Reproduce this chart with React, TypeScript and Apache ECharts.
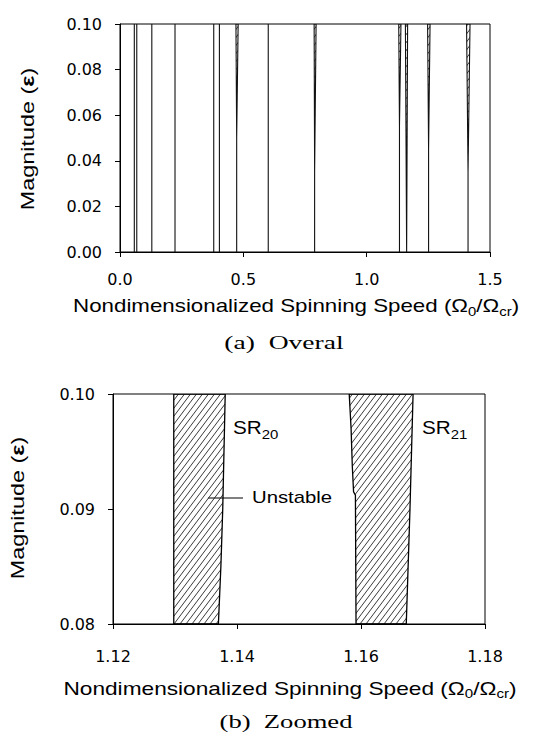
import React, { useEffect, useRef } from "react";
import * as echarts from "echarts";

// ---------- Panel (a): overall view ----------
// Each instability region: Omega at eps=0, eps where it starts to open, and its edges at eps=0.1
const overallBase = [0.058, 0.068, 0.129, 0.223, 0.38, 0.403, 0.473, 0.601, 0.789, 1.133, 1.162, 1.251, 1.411];
const overallKnee = [0.1, 0.1, 0.1, 0.1, 0.1, 0.1, 0.05, 0.1, 0.035, 0.055, 0.0, 0.045, 0.035];
const overallLeftTop = [0.058, 0.068, 0.129, 0.223, 0.38, 0.403, 0.47, 0.601, 0.787, 1.13, 1.157, 1.247, 1.405];
const overallRightTop = [0.058, 0.068, 0.129, 0.223, 0.38, 0.403, 0.479, 0.601, 0.795, 1.139, 1.166, 1.257, 1.419];
const overallTopEps = 0.1;
const overallXMin = 0;
const overallXMax = 1.5;
const overallXStep = 0.5;
const overallYMin = 0;
const overallYMax = 0.1;
const overallYStep = 0.02;

// ---------- Panel (b): zoomed view ----------
const sr20Left = [[1.1298, 0.08], [1.1298, 0.1]];
const sr20Right = [[1.1381, 0.1], [1.1377, 0.09], [1.1374, 0.085], [1.137, 0.08]];
const sr21Left = [[1.1592, 0.08], [1.1591, 0.0912], [1.1588, 0.0915], [1.1586, 0.0937], [1.1584, 0.097], [1.1581, 0.1]];
const sr21Right = [[1.1684, 0.1], [1.1679, 0.09], [1.1673, 0.08]];
const zoomXMin = 1.12;
const zoomXMax = 1.18;
const zoomXStep = 0.02;
const zoomYMin = 0.08;
const zoomYMax = 0.1;
const zoomYStep = 0.01;

const sansFamily = "'Liberation Sans', Arial, sans-serif";
const serifFamily = "'Liberation Serif', 'Times New Roman', serif";
const tickFamily = "'DejaVu Sans', sans-serif";

function makeHatch() {
  const w = 6;
  const h = 8;
  const c = document.createElement("canvas");
  c.width = w;
  c.height = h;
  const ctx = c.getContext("2d");
  if (ctx) {
    ctx.strokeStyle = "#222";
    ctx.lineWidth = 0.9;
    ctx.beginPath();
    for (const dx of [-w, 0, w]) {
      ctx.moveTo(dx - w, 2 * h);
      ctx.lineTo(dx + 2 * w, -h);
    }
    ctx.stroke();
  }
  return { image: c, repeat: "repeat", imageWidth: w, imageHeight: h } as any;
}

function speedTitle(cx: number, cy: number, sx: number) {
  return {
    type: "text",
    x: cx,
    y: cy,
    scaleX: sx,
    style: {
      text: "{n|Nondimensionalized Spinning Speed (Ω}{s|0}{n|/Ω}{s|cr}{n|)}",
      align: "center",
      verticalAlign: "middle",
      rich: {
        n: { fontSize: 18, fontFamily: sansFamily, lineHeight: 24, fill: "#000", verticalAlign: "middle" },
        s: { fontSize: 12, fontFamily: sansFamily, lineHeight: 12, fill: "#000", verticalAlign: "bottom" },
      },
    },
  };
}

function magnitudeTitle(cx: number, cy: number, sx: number) {
  return {
    type: "text",
    x: cx,
    y: cy,
    rotation: Math.PI / 2,
    scaleX: sx,
    style: {
      text: "{n|Magnitude (}{e|ε}{n|)}",
      align: "center",
      verticalAlign: "middle",
      rich: {
        n: { fontSize: 18, fontFamily: sansFamily, fill: "#000" },
        e: { fontSize: 18, fontFamily: sansFamily, fontWeight: "bold", fill: "#000" },
      },
    },
  };
}

function caption(text: string, cx: number, cy: number, sx: number) {
  return {
    type: "text",
    x: cx,
    y: cy,
    scaleX: sx,
    style: {
      text,
      align: "center",
      verticalAlign: "middle",
      fontSize: 19,
      fontFamily: serifFamily,
      fill: "#000",
    },
  };
}

function srLabel(main: string, sub: string, x: number, y: number) {
  return {
    type: "text",
    x,
    y,
    scaleX: 1.15,
    style: {
      text: `{a|${main}}{b|${sub}}`,
      align: "left",
      verticalAlign: "middle",
      rich: {
        a: { fontSize: 18, fontFamily: sansFamily, lineHeight: 26, fill: "#000", verticalAlign: "middle" },
        b: { fontSize: 13, fontFamily: sansFamily, lineHeight: 13, fill: "#000", verticalAlign: "bottom" },
      },
    },
  };
}

export default function App() {
  const ref = useRef<HTMLDivElement>(null);

  useEffect(() => {
    if (!ref.current) return;
    const chart = echarts.init(ref.current, undefined, { renderer: "svg" });
    const hatch = makeHatch();

    const zoomBands = [
      { left: sr20Left, right: sr20Right },
      { left: sr21Left, right: sr21Right },
    ];

    const axisCommon = {
      type: "value",
      axisLine: { show: true, lineStyle: { color: "#000", width: 1 } },
      axisTick: { show: true, inside: false, length: 5, lineStyle: { color: "#000" } },
      splitLine: { show: false },
    };

    const option: any = {
      animation: false,
      backgroundColor: "#fff",
      grid: [
        { left: 120, top: 24, width: 370, height: 228, show: true, borderColor: "#000", borderWidth: 1, backgroundColor: "transparent" },
        { left: 113, top: 394, width: 372, height: 230, show: true, borderColor: "#000", borderWidth: 1, backgroundColor: "transparent" },
      ],
      xAxis: [
        {
          ...axisCommon,
          gridIndex: 0,
          min: overallXMin,
          max: overallXMax,
          interval: overallXStep,
          axisLabel: { margin: 19, fontSize: 16, fontFamily: tickFamily, color: "#000", formatter: (v: number) => v.toFixed(1) },
        },
        {
          ...axisCommon,
          gridIndex: 1,
          min: zoomXMin,
          max: zoomXMax,
          interval: zoomXStep,
          axisLabel: { margin: 24, fontSize: 16, fontFamily: tickFamily, color: "#000", formatter: (v: number) => v.toFixed(2) },
        },
      ],
      yAxis: [
        {
          ...axisCommon,
          gridIndex: 0,
          min: overallYMin,
          max: overallYMax,
          interval: overallYStep,
          axisLabel: { margin: 18, fontSize: 16, fontFamily: tickFamily, color: "#000", formatter: (v: number) => v.toFixed(2) },
        },
        {
          ...axisCommon,
          gridIndex: 1,
          min: zoomYMin,
          max: zoomYMax,
          interval: zoomYStep,
          axisLabel: { margin: 18, fontSize: 16, fontFamily: tickFamily, color: "#000", formatter: (v: number) => v.toFixed(2) },
        },
      ],
      series: [
        {
          type: "custom",
          xAxisIndex: 0,
          yAxisIndex: 0,
          clip: true,
          encode: { x: 0, y: 1 },
          data: overallBase.map((b, i) => [b, 0, i]),
          renderItem: (_params: any, api: any) => {
            const i = api.value(2);
            const b = overallBase[i];
            const k = overallKnee[i];
            const pts = [
              [b, 0],
              [b, k],
              [overallLeftTop[i], overallTopEps],
              [overallRightTop[i], overallTopEps],
              [b, k],
            ].map((p) => api.coord(p));
            return {
              type: "polygon",
              shape: { points: pts },
              style: { fill: hatch, stroke: "#111", lineWidth: 1.1 },
            };
          },
        },
        {
          type: "custom",
          xAxisIndex: 1,
          yAxisIndex: 1,
          clip: true,
          encode: { x: 0, y: 1 },
          data: zoomBands.map((z, i) => [z.left[0][0], z.left[0][1], i]),
          renderItem: (_params: any, api: any) => {
            const i = api.value(2);
            const z = zoomBands[i];
            const pts = [...z.left, ...z.right].map((p) => api.coord(p));
            return {
              type: "polygon",
              shape: { points: pts },
              style: { fill: hatch, stroke: "#000", lineWidth: 1.3 },
            };
          },
        },
      ],
      graphic: [
        speedTitle(296, 306, 1.24),
        magnitudeTitle(28, 139, 1.3),
        caption("(a)  Overal", 284, 343, 1.45),
        speedTitle(290, 688, 1.26),
        magnitudeTitle(18, 508, 1.3),
        caption("(b)  Zoomed", 286, 721, 1.4),
        srLabel("SR", "20", 233, 428),
        srLabel("SR", "21", 422, 428),
        {
          type: "text",
          x: 252,
          y: 497,
          scaleX: 1.27,
          style: { text: "Unstable", align: "left", verticalAlign: "middle", fontSize: 16, fontFamily: sansFamily, fill: "#000" },
        },
        {
          type: "line",
          shape: { x1: 208, y1: 498, x2: 243, y2: 498 },
          style: { stroke: "#000", lineWidth: 1 },
        },
      ],
    };

    chart.setOption(option);
    return () => chart.dispose();
  }, []);

  return (
    <div
      ref={ref}
      style={{ position: "absolute", left: 0, top: 0, width: 535, height: 734, background: "#fff" }}
    />
  );
}
